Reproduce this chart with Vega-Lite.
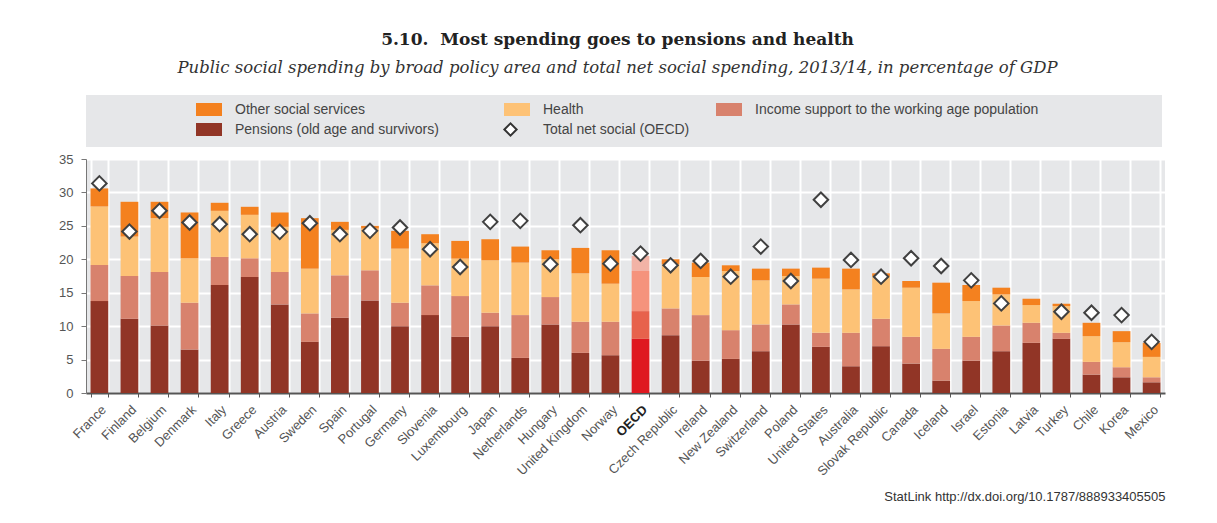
{
  "$schema": "https://vega.github.io/schema/vega-lite/v6.json",
  "width": 1079,
  "height": 234,
  "padding": {"left": 58, "top": 30, "right": 10, "bottom": 5},
  "background": "white",
  "config": {
    "font": "Liberation Sans",
    "view": {"fill": "#e6e7e9", "stroke": null},
    "axis": {
      "labelColor": "#555555",
      "labelFontSize": 12,
      "domainColor": "#777777",
      "tickColor": "#777777",
      "gridColor": "#ffffff",
      "gridWidth": 2
    },
    "axisY": {
      "title": null,
      "values": [0, 5, 10, 15, 20, 25, 30, 35],
      "grid": true,
      "tickSize": 5,
      "labelPadding": 8,
      "labelFontSize": 13
    }
  },
  "title": {
    "text": "5.10.\u00a0\u00a0Most spending goes to pensions and health",
    "subtitle": "Public social spending by broad policy area and total net social spending, 2013/14, in percentage of GDP",
    "font": "DejaVu Serif",
    "fontSize": 17,
    "fontWeight": "bold",
    "color": "#222222",
    "subtitleFont": "DejaVu Serif",
    "subtitleFontSize": 16.5,
    "subtitleFontStyle": "italic",
    "subtitleColor": "#333333",
    "subtitlePadding": 11,
    "anchor": "middle",
    "dx": -8,
    "offset": 18
  },
  "data": {
    "values": [
      {"country": "France", "pensions": 13.75, "income": 5.4, "health": 8.75, "other": 2.7, "net": 31.35},
      {"country": "Finland", "pensions": 11.1, "income": 6.4, "health": 5.9, "other": 5.2, "net": 24.15},
      {"country": "Belgium", "pensions": 10.1, "income": 8.0, "health": 8.05, "other": 2.45, "net": 27.25},
      {"country": "Denmark", "pensions": 6.5, "income": 7.0, "health": 6.65, "other": 6.85, "net": 25.5},
      {"country": "Italy", "pensions": 16.15, "income": 4.2, "health": 6.9, "other": 1.2, "net": 25.25},
      {"country": "Greece", "pensions": 17.35, "income": 2.8, "health": 6.5, "other": 1.2, "net": 23.75},
      {"country": "Austria", "pensions": 13.25, "income": 4.85, "health": 6.75, "other": 2.15, "net": 24.1},
      {"country": "Sweden", "pensions": 7.65, "income": 4.25, "health": 6.7, "other": 7.55, "net": 25.4},
      {"country": "Spain", "pensions": 11.25, "income": 6.35, "health": 6.8, "other": 1.2, "net": 23.75},
      {"country": "Portugal", "pensions": 13.85, "income": 4.5, "health": 6.25, "other": 0.4, "net": 24.25},
      {"country": "Germany", "pensions": 10.0, "income": 3.5, "health": 8.1, "other": 2.65, "net": 24.75},
      {"country": "Slovenia", "pensions": 11.65, "income": 4.45, "health": 6.3, "other": 1.35, "net": 21.5},
      {"country": "Luxembourg", "pensions": 8.4, "income": 6.1, "health": 5.6, "other": 2.65, "net": 18.85},
      {"country": "Japan", "pensions": 10.0, "income": 2.0, "health": 7.85, "other": 3.15, "net": 25.6},
      {"country": "Netherlands", "pensions": 5.25, "income": 6.4, "health": 7.85, "other": 2.4, "net": 25.75},
      {"country": "Hungary", "pensions": 10.25, "income": 4.1, "health": 5.65, "other": 1.35, "net": 19.25},
      {"country": "United Kingdom", "pensions": 6.0, "income": 4.65, "health": 7.25, "other": 3.8, "net": 25.1},
      {"country": "Norway", "pensions": 5.65, "income": 5.0, "health": 5.7, "other": 5.0, "net": 19.35},
      {"country": "OECD", "pensions": 8.1, "income": 4.15, "health": 6.0, "other": 2.25, "net": 20.85},
      {"country": "Czech Republic", "pensions": 8.65, "income": 4.0, "health": 6.6, "other": 0.75, "net": 19.1},
      {"country": "Ireland", "pensions": 4.85, "income": 6.8, "health": 5.7, "other": 2.15, "net": 19.75},
      {"country": "New Zealand", "pensions": 5.1, "income": 4.3, "health": 8.85, "other": 0.85, "net": 17.4},
      {"country": "Switzerland", "pensions": 6.25, "income": 4.0, "health": 6.6, "other": 1.75, "net": 21.9},
      {"country": "Poland", "pensions": 10.25, "income": 3.0, "health": 4.25, "other": 1.1, "net": 16.75},
      {"country": "United States", "pensions": 6.9, "income": 2.1, "health": 8.1, "other": 1.65, "net": 28.9},
      {"country": "Australia", "pensions": 4.0, "income": 5.0, "health": 6.5, "other": 3.1, "net": 19.9},
      {"country": "Slovak Republic", "pensions": 7.0, "income": 4.1, "health": 6.4, "other": 0.4, "net": 17.4},
      {"country": "Canada", "pensions": 4.4, "income": 4.0, "health": 7.35, "other": 1.0, "net": 20.15},
      {"country": "Iceland", "pensions": 1.85, "income": 4.75, "health": 5.3, "other": 4.6, "net": 19.0},
      {"country": "Israel", "pensions": 4.85, "income": 3.55, "health": 5.35, "other": 2.4, "net": 16.85},
      {"country": "Estonia", "pensions": 6.25, "income": 3.85, "health": 4.65, "other": 1.0, "net": 13.4},
      {"country": "Latvia", "pensions": 7.5, "income": 3.0, "health": 2.65, "other": 0.95, "net": null},
      {"country": "Turkey", "pensions": 8.1, "income": 0.9, "health": 4.0, "other": 0.35, "net": 12.15},
      {"country": "Chile", "pensions": 2.75, "income": 1.9, "health": 3.85, "other": 2.0, "net": 12.0},
      {"country": "Korea", "pensions": 2.35, "income": 1.5, "health": 3.75, "other": 1.65, "net": 11.65},
      {"country": "Mexico", "pensions": 1.6, "income": 0.75, "health": 3.05, "other": 2.1, "net": 7.65}
    ]
  },
  "transform": [
    {"fold": ["pensions", "income", "health", "other"], "as": ["key", "value"]},
    {"calculate": "indexof(['pensions', 'income', 'health', 'other'], datum.key)", "as": "rank"},
    {"calculate": "datum.country === 'OECD' ? datum.key + '_oecd' : datum.key", "as": "ckey"}
  ],
  "encoding": {
    "x": {
      "field": "country",
      "type": "nominal",
      "sort": null,
      "scale": {"paddingInner": 0.41, "paddingOuter": 0.15},
      "axis": {
        "title": "StatLink  http://dx.doi.org/10.1787/888933405505",
        "titleAnchor": "end",
        "titleAlign": "right",
        "titleFontWeight": "normal",
        "titleFontSize": 13,
        "titleColor": "#333333",
        "titlePadding": 12,
        "labelAngle": -45,
        "labelFontSize": 13,
        "labelFontWeight": {"condition": {"test": "datum.value === 'OECD'", "value": "bold"}, "value": "normal"},
        "labelColor": {"condition": {"test": "datum.value === 'OECD'", "value": "#222222"}, "value": "#555555"},
        "tickBand": "extent",
        "grid": true,
        "domainColor": "#555555",
        "domainWidth": 2,
        "tickColor": "#555555",
        "tickSize": 4,
        "labelPadding": 6
      }
    }
  },
  "layer": [
    {
      "mark": {"type": "bar"},
      "encoding": {
        "y": {
          "field": "value",
          "type": "quantitative",
          "stack": "zero",
          "scale": {"domain": [0, 35], "nice": false}
        },
        "color": {
          "field": "ckey",
          "type": "nominal",
          "scale": {
            "domain": ["other", "health", "income", "pensions", "net", "other_oecd", "health_oecd", "income_oecd", "pensions_oecd"],
            "range": ["#f4811f", "#fdc276", "#d8826d", "#913526", "#ffffff", "#f2b3a6", "#f5937c", "#e7624c", "#df1820"]
          },
          "legend": {
            "title": "\u00a0",
            "titleOrient": "left",
            "titlePadding": 102,
            "orient": "top",
            "offset": 12,
            "columns": 3,
            "direction": "horizontal",
            "values": ["other", "health", "income", "pensions", "net"],
            "labelExpr": "datum.value === 'other' ? 'Other social services' : datum.value === 'health' ? 'Health' : datum.value === 'income' ? 'Income support to the working age population\u00a0\u00a0\u00a0\u00a0\u00a0\u00a0\u00a0\u00a0\u00a0\u00a0\u00a0\u00a0\u00a0\u00a0\u00a0\u00a0\u00a0\u00a0\u00a0\u00a0\u00a0\u00a0\u00a0\u00a0\u00a0\u00a0\u00a0\u00a0\u00a0\u00a0\u200b' : datum.value === 'pensions' ? 'Pensions (old age and survivors)\u00a0\u00a0\u00a0\u00a0\u00a0\u00a0\u00a0\u00a0\u00a0\u00a0\u200b' : 'Total net social (OECD)'",
            "labelLimit": 700,
            "labelFontSize": 14,
            "labelColor": "#444444",
            "labelOffset": 25,
            "columnPadding": 22,
            "rowPadding": -1,
            "padding": 7,
            "fillColor": "#e6e7e9",
            "symbolSize": 169,
            "symbolType": "M-1,-1H3V1H-1Z",
            "encode": {
              "symbols": {
                "update": {
                  "shape": {"signal": "datum.value === 'net' ? 'diamond' : 'M-1,-1H3V1H-1Z'"},
                  "size": {"signal": "datum.value === 'net' ? 150 : 169"},
                  "stroke": {"signal": "datum.value === 'net' ? '#333333' : 'transparent'"},
                  "strokeWidth": {"value": 2}
                }
              }
            }
          }
        },
        "order": {"field": "rank", "type": "quantitative"}
      }
    },
    {
      "transform": [
        {"filter": "datum.key === 'pensions' && isValid(datum.net)"}
      ],
      "mark": {"type": "point", "shape": "diamond", "filled": true, "fill": "#ffffff", "stroke": "#404040", "strokeWidth": 2, "size": 210, "opacity": 1},
      "encoding": {
        "y": {"field": "net", "type": "quantitative"}
      }
    }
  ]
}
